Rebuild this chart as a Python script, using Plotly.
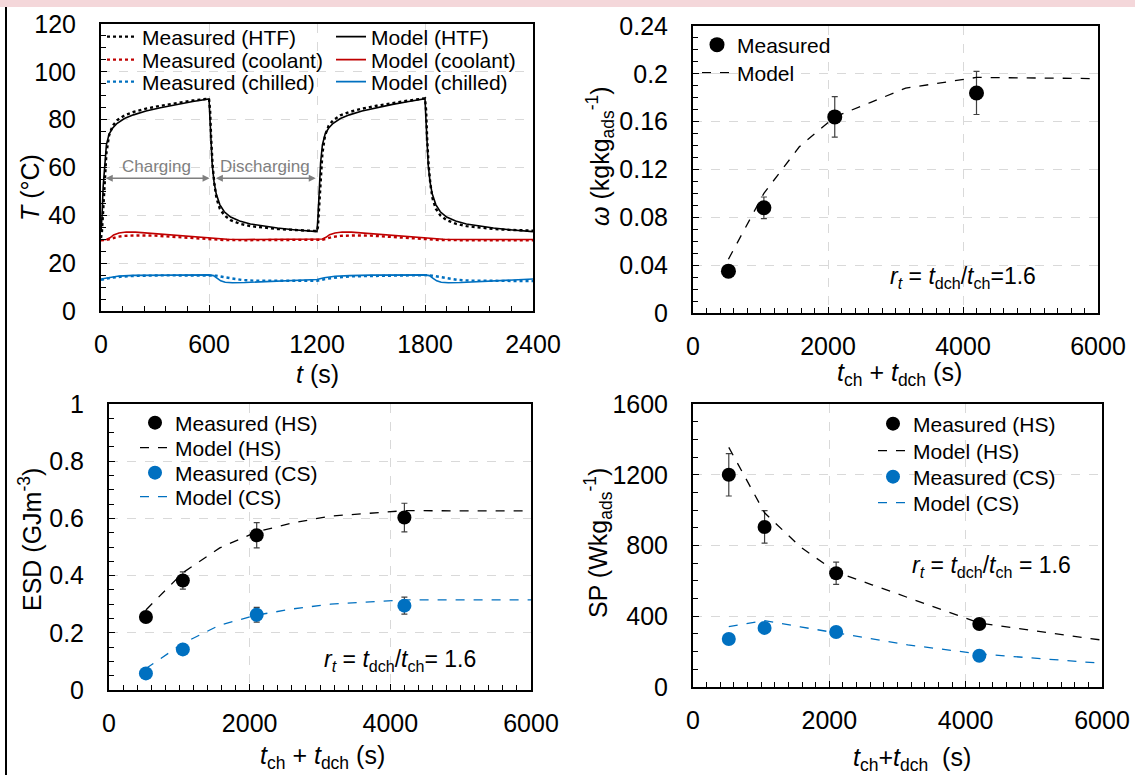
import plotly.graph_objects as go

W, H = 1135, 775
FONT = "Liberation Sans"

# ---------------- Panel (a): temperature profiles ----------------
t_htf_model = [0, 6, 12, 20, 30, 45, 65, 90, 130, 180, 250, 330, 420, 510, 600, 604, 610, 618, 628, 640, 660, 685,
               720, 770, 830, 900, 980, 1070, 1150, 1200, 1206, 1212, 1220, 1230, 1245, 1265, 1290, 1330, 1380, 1450,
               1530, 1620, 1710, 1800, 1804, 1810, 1818, 1828, 1840, 1860, 1885, 1920, 1970, 2030, 2100, 2180, 2270,
               2350, 2400]
T_htf_model = [33.0, 40, 52, 62, 69.5, 74, 76.5, 78.5, 80.5, 82, 83.6, 85, 86.4, 87.6, 88.7, 82, 70, 61, 54, 49, 44.5,
               41.5, 39.3, 37.6, 36.4, 35.5, 34.7, 34.0, 33.5, 33.2, 40, 52, 62, 69.5, 74, 76.5, 78.5, 80.5, 82, 83.6,
               85, 86.4, 87.6, 88.8, 82, 70, 61, 54, 49, 44.5, 41.5, 39.3, 37.6, 36.4, 35.5, 34.7, 34.0, 33.5, 33.2]

t_htf_meas = [0, 5, 12, 20, 30, 45, 65, 90, 130, 180, 250, 330, 420, 510, 600, 606, 612, 620, 630, 642, 660, 685, 720,
              770, 830, 900, 980, 1070, 1150, 1200, 1205, 1212, 1220, 1230, 1245, 1265, 1290, 1330, 1380, 1450, 1530,
              1620, 1710, 1800, 1806, 1812, 1820, 1830, 1842, 1860, 1885, 1920, 1970, 2030, 2100, 2180, 2270, 2350,
              2400]
T_htf_meas = [30.5, 33, 42, 55, 66, 73.5, 77.5, 79.8, 81.8, 83.2, 84.6, 85.8, 87, 88, 88.8, 84, 72, 61, 53, 47, 42.8,
              40, 38, 36.5, 35.5, 34.8, 34.3, 33.9, 33.6, 33.4, 35, 44, 56, 66, 73.5, 77.5, 79.8, 81.8, 83.2, 84.6,
              85.8, 87, 88, 88.9, 84, 72, 61, 53, 47, 42.8, 40, 38, 36.5, 35.5, 34.8, 34.3, 33.9, 33.7, 33.6]

t_cool_model = [0, 30, 50, 70, 100, 140, 190, 260, 350, 450, 550, 620, 700, 800, 1000, 1200, 1230, 1250, 1270, 1300,
                1340, 1390, 1460, 1550, 1650, 1750, 1820, 1900, 2000, 2400]
T_cool_model = [29.8, 29.9, 30.6, 31.8, 32.6, 33.0, 33.0, 32.6, 32.0, 31.3, 30.7, 30.4, 30.0, 29.9, 29.9, 29.9, 30.1,
                30.8, 31.9, 32.6, 33.0, 33.0, 32.6, 32.0, 31.3, 30.7, 30.4, 30.0, 29.9, 29.9]

t_cool_meas = [0, 30, 60, 90, 130, 200, 300, 400, 500, 600, 680, 800, 1000, 1200, 1230, 1260, 1290, 1330, 1400, 1500,
               1600, 1700, 1800, 1880, 2000, 2400]
T_cool_meas = [29.6, 29.7, 30.3, 31.0, 31.4, 31.6, 31.5, 31.1, 30.6, 30.2, 29.7, 29.6, 29.6, 29.6, 29.8, 30.4, 31.0,
               31.4, 31.6, 31.5, 31.1, 30.6, 30.2, 29.7, 29.6, 29.6]

t_chill_model = [0, 40, 100, 180, 300, 600, 625, 645, 665, 690, 730, 800, 900, 1000, 1100, 1200, 1240, 1300, 1380,
                 1500, 1800, 1825, 1845, 1865, 1890, 1930, 2000, 2100, 2200, 2300, 2400]
T_chill_model = [13.4, 14.0, 14.6, 14.9, 15.0, 15.1, 14.8, 13.6, 12.6, 12.0, 11.8, 11.9, 12.2, 12.5, 12.9, 13.2, 13.9,
                 14.5, 14.8, 15.0, 15.1, 14.8, 13.6, 12.6, 12.0, 11.8, 11.9, 12.2, 12.6, 13.0, 13.4]

t_chill_meas = [0, 50, 120, 200, 350, 600, 640, 680, 720, 780, 850, 950, 1100, 1200, 1250, 1320, 1400, 1550, 1800,
                1840, 1880, 1920, 1980, 2050, 2150, 2300, 2400]
T_chill_meas = [13.0, 13.8, 14.4, 14.7, 14.9, 15.0, 14.8, 14.2, 13.6, 13.0, 12.7, 12.6, 12.6, 12.6, 13.4, 14.1, 14.5,
                14.8, 15.0, 14.8, 14.2, 13.6, 13.0, 12.7, 12.6, 12.5, 12.5]

# ---------------- Panels (b)-(d): cycle-time dependence ----------------
cycle_meas = [525, 1050, 2100, 4200]
cycle_model = [525, 1050, 1575, 2100, 2625, 3150, 4200, 6000]

omega_meas = [0.035, 0.088, 0.164, 0.184]
omega_err = [0.002, 0.009, 0.017, 0.018]
omega_model = [0.045, 0.100, 0.139, 0.164, 0.176, 0.188, 0.197, 0.196]

esd_hs_meas = [0.255, 0.383, 0.541, 0.603]
esd_hs_err = [0.012, 0.030, 0.044, 0.050]
esd_cs_meas = [0.058, 0.142, 0.263, 0.295]
esd_cs_err = [0.008, 0.012, 0.026, 0.030]
esd_hs_model = [0.280, 0.410, 0.497, 0.553, 0.585, 0.608, 0.627, 0.626]
esd_cs_model = [0.075, 0.163, 0.227, 0.262, 0.284, 0.300, 0.315, 0.315]

sp_hs_meas = [1200, 905, 643, 356]
sp_hs_err = [120, 92, 63, 15]
sp_cs_meas = [271, 334, 311, 177]
sp_cs_err = [15, 30, 25, 12]
sp_hs_model = [1355, 985, 792, 650, 578, 507, 362, 265]
sp_cs_model = [341, 375, 340, 305, 271, 238, 187, 134]

BLACK = "#000000"
RED = "#c00000"
BLUE = "#0070c0"
GRAY = "#7f7f7f"

fig = go.Figure()

# panel (a)
tl = [
    ("Measured (HTF)", t_htf_meas, T_htf_meas, BLACK, "dot", "legend"),
    ("Measured (coolant)", t_cool_meas, T_cool_meas, RED, "dot", "legend2"),
    ("Measured (chilled)", t_chill_meas, T_chill_meas, BLUE, "dot", "legend3"),
    ("Model (HTF)", t_htf_model, T_htf_model, BLACK, "solid", "legend4"),
    ("Model (coolant)", t_cool_model, T_cool_model, RED, "solid", "legend5"),
    ("Model (chilled)", t_chill_model, T_chill_model, BLUE, "solid", "legend6"),
]
for name, xs, ys, col, dash, lg in tl:
    fig.add_trace(go.Scatter(x=xs, y=ys, mode="lines", name=name, xaxis="x", yaxis="y",
                             line=dict(color=col, dash=dash, width=2.4 if dash == "dot" else 1.6),
                             legend=lg, showlegend=True))

# panel (b)
fig.add_trace(go.Scatter(x=cycle_meas, y=omega_meas, mode="markers", name="Measured", xaxis="x2", yaxis="y2",
                         marker=dict(color=BLACK, size=15),
                         error_y=dict(type="data", array=omega_err, color="#404040", thickness=1.2, width=3),
                         legend="legend7"))
fig.add_trace(go.Scatter(x=cycle_model, y=omega_model, mode="lines", name="Model", xaxis="x2", yaxis="y2",
                         line=dict(color=BLACK, dash="dash", width=1.3), legend="legend8"))

# panel (c)
fig.add_trace(go.Scatter(x=cycle_meas, y=esd_hs_meas, mode="markers", name="Measured (HS)", xaxis="x3", yaxis="y3",
                         marker=dict(color=BLACK, size=14),
                         error_y=dict(type="data", array=esd_hs_err, color="#404040", thickness=1.2, width=3),
                         legend="legend9"))
fig.add_trace(go.Scatter(x=cycle_model, y=esd_hs_model, mode="lines", name="Model (HS)", xaxis="x3", yaxis="y3",
                         line=dict(color=BLACK, dash="dash", width=1.3), legend="legend10"))
fig.add_trace(go.Scatter(x=cycle_meas, y=esd_cs_meas, mode="markers", name="Measured (CS)", xaxis="x3", yaxis="y3",
                         marker=dict(color=BLUE, size=14),
                         error_y=dict(type="data", array=esd_cs_err, color="#404040", thickness=1.2, width=3),
                         legend="legend11"))
fig.add_trace(go.Scatter(x=cycle_model, y=esd_cs_model, mode="lines", name="Model (CS)", xaxis="x3", yaxis="y3",
                         line=dict(color=BLUE, dash="dash", width=1.3), legend="legend12"))

# panel (d)
fig.add_trace(go.Scatter(x=cycle_meas, y=sp_hs_meas, mode="markers", name="Measured (HS)", xaxis="x4", yaxis="y4",
                         marker=dict(color=BLACK, size=14),
                         error_y=dict(type="data", array=sp_hs_err, color="#404040", thickness=1.2, width=3),
                         legend="legend13"))
fig.add_trace(go.Scatter(x=cycle_model, y=sp_hs_model, mode="lines", name="Model (HS)", xaxis="x4", yaxis="y4",
                         line=dict(color=BLACK, dash="dash", width=1.3), legend="legend14"))
fig.add_trace(go.Scatter(x=cycle_meas, y=sp_cs_meas, mode="markers", name="Measured (CS)", xaxis="x4", yaxis="y4",
                         marker=dict(color=BLUE, size=14),
                         error_y=dict(type="data", array=sp_cs_err, color="#404040", thickness=1.2, width=3),
                         legend="legend15"))
fig.add_trace(go.Scatter(x=cycle_model, y=sp_cs_model, mode="lines", name="Model (CS)", xaxis="x4", yaxis="y4",
                         line=dict(color=BLUE, dash="dash", width=1.3), legend="legend16"))


def px_x(p):
    return p / W


def px_y(p):
    return 1 - p / H


def axis(domain, rng, dtick, minor, anchor, standoff):
    return dict(domain=domain, range=rng, dtick=dtick, tick0=0, anchor=anchor,
                showline=True, linecolor=BLACK, linewidth=2, mirror=True,
                ticks="inside", ticklen=6, tickwidth=1, tickcolor=BLACK,
                showgrid=True, gridcolor="#d9d9d9", griddash="dash", gridwidth=1, zeroline=False,
                tickfont=dict(family=FONT, size=25, color=BLACK), ticklabelstandoff=standoff,
                minor=dict(dtick=minor, tick0=0, ticks="inside", ticklen=5, tickcolor=BLACK, showgrid=False),
                fixedrange=True, automargin=False)


XSO, YSO = 10, 18
layout = dict(
    width=W, height=H, margin=dict(l=0, r=0, t=0, b=0, autoexpand=False),
    paper_bgcolor="white", plot_bgcolor="white", showlegend=True,
    font=dict(family=FONT, color=BLACK),
    xaxis=axis([px_x(101), px_x(533)], [0, 2400], 600, 120, "y", XSO),
    yaxis=axis([px_y(311), px_y(24)], [0, 120], 20, 5, "x", YSO),
    xaxis2=axis([px_x(693), px_x(1098)], [0, 6000], 2000, 200, "y2", XSO),
    yaxis2=axis([px_y(313), px_y(26)], [0, 0.24], 0.04, 0.01, "x2", YSO),
    xaxis3=axis([px_x(109), px_x(531)], [0, 6000], 2000, 200, "y3", XSO),
    yaxis3=axis([px_y(690), px_y(404)], [0, 1], 0.2, 0.05, "x3", YSO),
    xaxis4=axis([px_x(693), px_x(1102)], [0, 6000], 2000, 200, "y4", XSO),
    yaxis4=axis([px_y(687), px_y(404)], [0, 1600], 400, 100, "x4", YSO),
)


def leg(text_x, row_y, size):
    return dict(x=px_x(text_x - 40), y=px_y(row_y), xanchor="left", yanchor="middle",
                bgcolor="rgba(0,0,0,0)", borderwidth=0, itemwidth=30, visible=True,
                font=dict(family=FONT, size=size, color=BLACK))


legend_pos = {
    "legend": (142, 37, 21), "legend2": (142, 60, 21), "legend3": (142, 82, 21),
    "legend4": (371, 37, 21), "legend5": (371, 60, 21), "legend6": (371, 82, 21),
    "legend7": (737, 45, 21), "legend8": (737, 73, 21),
    "legend9": (175, 423, 21), "legend10": (175, 448, 21), "legend11": (175, 473, 21), "legend12": (175, 497, 21),
    "legend13": (913, 424, 21), "legend14": (913, 451, 21), "legend15": (913, 477, 21), "legend16": (913, 503, 21),
}
for k, (tx, ry, sz) in legend_pos.items():
    layout[k] = leg(tx, ry, sz)

fig.update_layout(**layout)

RT_TXT = "<i>r<sub>t</sub></i> = <i>t</i><sub>dch</sub>/<i>t</i><sub>ch</sub>"
annotations = [
    # axis titles
    dict(text="<i>T</i> (°C)", x=px_x(30), y=px_y(188), textangle=-90, font=dict(size=25)),
    dict(text="<i>t</i> (s)", x=px_x(317), y=px_y(374), font=dict(size=25)),
    dict(text="<i>ω</i> (kgkg<sub>ads</sub><sup>-1</sup>)", x=px_x(600), y=px_y(156), textangle=-90,
         font=dict(size=25)),
    dict(text="<i>t</i><sub>ch</sub> + <i>t</i><sub>dch</sub> (s)", x=px_x(900), y=px_y(374), font=dict(size=25)),
    dict(text="ESD (GJm<sup>-3</sup>)", x=px_x(30), y=px_y(540), textangle=-90, font=dict(size=25)),
    dict(text="<i>t</i><sub>ch</sub> + <i>t</i><sub>dch</sub> (s)", x=px_x(322), y=px_y(757), font=dict(size=25)),
    dict(text="SP (Wkg<sub>ads</sub><sup>-1</sup>)", x=px_x(598), y=px_y(543), textangle=-90, font=dict(size=25)),
    dict(text="<i>t</i><sub>ch</sub>+<i>t</i><sub>dch</sub>  (s)", x=px_x(912), y=px_y(759), font=dict(size=25)),
    # r_t notes
    dict(text=RT_TXT + "=1.6", x=px_x(963), y=px_y(277), font=dict(size=23)),
    dict(text=RT_TXT + "= 1.6", x=px_x(400), y=px_y(660), font=dict(size=23)),
    dict(text=RT_TXT + " = 1.6", x=px_x(991), y=px_y(566), font=dict(size=23)),
]
for a in annotations:
    a.update(xref="paper", yref="paper", showarrow=False, xanchor="center", yanchor="middle")
    a["font"].update(family=FONT, color=BLACK)

# charging / discharging arrows & labels in panel (a)
annotations += [
    dict(x=603, y=55.5, ax=18, ay=55.5, xref="x", yref="y", axref="x", ayref="y", text="", showarrow=True,
         arrowhead=2, startarrowhead=2, arrowside="end+start", arrowsize=1, startarrowsize=1, arrowwidth=1.4,
         arrowcolor=GRAY, standoff=0, startstandoff=0),
    dict(x=1193, y=55.5, ax=630, ay=55.5, xref="x", yref="y", axref="x", ayref="y", text="", showarrow=True,
         arrowhead=2, startarrowhead=2, arrowside="end+start", arrowsize=1, startarrowsize=1, arrowwidth=1.4,
         arrowcolor=GRAY, standoff=0, startstandoff=0),
    dict(x=310, y=60.5, xref="x", yref="y", text="Charging", showarrow=False,
         font=dict(family=FONT, size=17, color=GRAY)),
    dict(x=913, y=60.5, xref="x", yref="y", text="Discharging", showarrow=False,
         font=dict(family=FONT, size=17, color=GRAY)),
]

shapes = [
    dict(type="rect", xref="paper", yref="paper", x0=0, x1=1, y0=px_y(7), y1=1,
         fillcolor="#f4d7da", line=dict(width=0), layer="below"),
    dict(type="line", xref="paper", yref="paper", x0=px_x(6), x1=px_x(6), y0=0, y1=px_y(7),
         line=dict(color=BLACK, width=2)),
]

fig.update_layout(annotations=annotations, shapes=shapes)

fig.write_html("out.html", config={"displayModeBar": False},
               post_script="document.body.style.margin='0px';document.body.style.overflow='hidden';")
